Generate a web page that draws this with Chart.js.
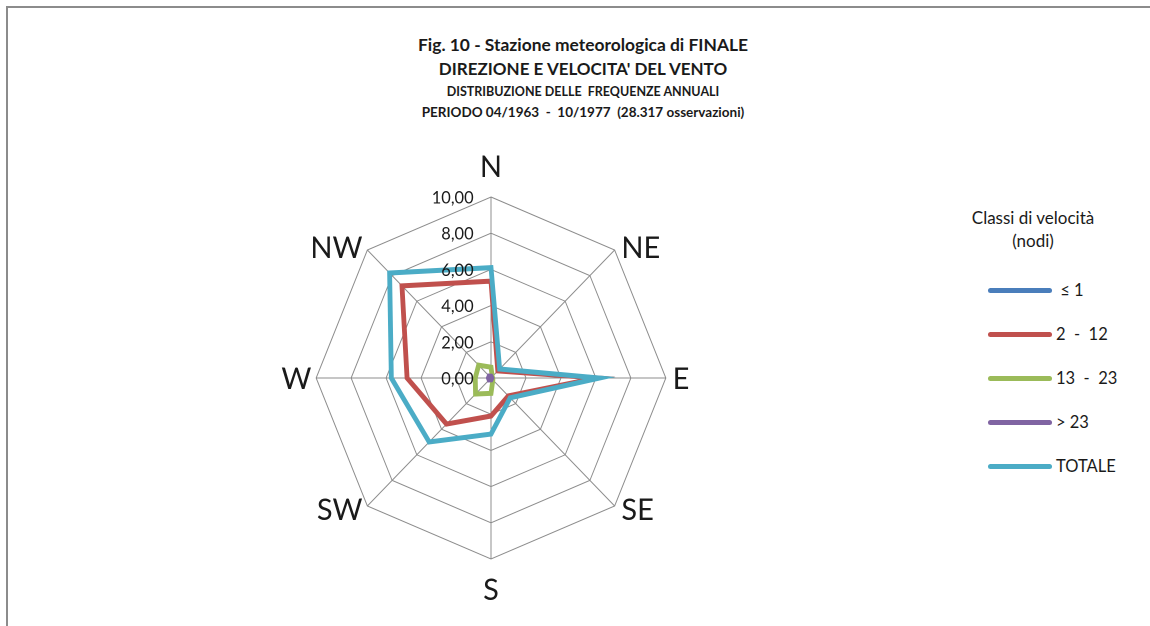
<!DOCTYPE html>
<html lang="it">
<head>
<meta charset="utf-8">
<title>Fig. 10 - Stazione meteorologica di FINALE</title>
<script src="https://cdn.jsdelivr.net/npm/chart.js@4.4.1/dist/chart.umd.min.js"></script>
<style>
  html, body { margin: 0; padding: 0; background: #ffffff; }
  body { width: 1150px; height: 626px; position: relative; overflow: hidden; font-family: Lato, "Open Sans", sans-serif; color: #1a1a1a; }
  .frame { position: absolute; left: 6px; top: 6px; right: -4px; bottom: -4px; border-top: 2px solid #8c8c8c; border-left: 2px solid #8c8c8c; }
  .title { position: absolute; left: 383px; width: 400px; text-align: center; font-weight: bold; white-space: pre; line-height: 1.2; }
  #chartBox { position: absolute; left: 191px; top: 147px; width: 600px; height: 462px; }
  .legend { position: absolute; left: 940px; top: 206px; width: 170px; }
  .legend-title { text-align: center; font-size: 17px; line-height: 23px; margin-left: 16px; }
  .legend-item { position: absolute; left: 48px; height: 20px; display: flex; align-items: center; font-size: 16.5px; white-space: pre; }
  .legend-item .swatch { width: 64px; height: 5px; border-radius: 3px; margin-right: 4px; }
</style>
</head>
<body>
<div class="frame"></div>
<div class="title" style="top:35px;font-size:17.4px;">Fig. 10 - Stazione meteorologica di FINALE</div>
<div class="title" style="top:59px;font-size:17px;">DIREZIONE E VELOCITA' DEL VENTO</div>
<div class="title" style="top:84px;font-size:12.5px;">DISTRIBUZIONE DELLE  FREQUENZE ANNUALI</div>
<div class="title" style="top:104px;font-size:13.5px;">PERIODO 04/1963  -  10/1977  (28.317 osservazioni)</div>

<div id="chartBox"><canvas id="rose"></canvas></div>
<div class="legend" id="legend"></div>

<script>
// Wind directions (compass sectors)
const directions = ['N', 'NE', 'E', 'SE', 'S', 'SW', 'W', 'NW'];

// Annual frequency (%) per speed class, in sector order N..NW
const calm     = [0, 0, 0, 0, 0, 0, 0, 0];                          // ≤ 1 nodi
const light    = [5.35, 0.55, 6.05, 1.4, 2.1, 3.6, 4.8, 7.2];        // 2 - 12 nodi
const moderate = [0.6, 0.1, 0.1, 0.15, 0.85, 1.25, 0.9, 1.0];        // 13 - 23 nodi
const strong   = [0.1, 0.05, 0.05, 0.05, 0.1, 0.15, 0.15, 0.15];     // > 23 nodi
const total    = [6.1, 0.7, 6.2, 1.55, 3.1, 5.0, 5.7, 8.2];          // TOTALE

// Radial axis tick values
const tickValues = [0, 2, 4, 6, 8, 10];

const seriesNames = ['\u2264 1', '2  -  12', '13  -  23', '> 23', 'TOTALE'];
const seriesColors = ['#4a7ebb', '#c0504d', '#9bbb59', '#8064a2', '#4bacc6'];
const seriesData = [calm, light, moderate, strong, total];
// later series are painted on top
const drawOrder = [5, 4, 3, 2, 1];

const FONT = 'Lato, "Open Sans", sans-serif';
const fmt = v => v.toFixed(2).replace('.', ',');

// The rose is drawn slightly narrower than tall (horizontal squash about its centre)
const SQUASH_X = 0.966;
const squash = {
  id: 'squash',
  beforeDraw(chart) {
    const cx = chart.scales.r.xCenter;
    const ctx = chart.ctx;
    ctx.save();
    ctx.translate(cx, 0);
    ctx.scale(SQUASH_X, 1);
    ctx.translate(-cx, 0);
  },
  afterDraw(chart) {
    chart.ctx.restore();
  }
};

// Compass labels just outside the outer ring, and value labels left of the north spoke
const roseLabels = {
  id: 'roseLabels',
  afterDraw(chart) {
    const r = chart.scales.r;
    const ctx = chart.ctx;
    const R = r.drawingArea;
    ctx.save();
    ctx.fillStyle = '#1a1a1a';

    ctx.font = '30px ' + FONT;
    chart.data.labels.forEach((lab, i) => {
      const v = r.getPointPosition(i, R);
      const a = v.angle + Math.PI / 2;          // 0 at north, clockwise
      const sx = Math.sin(a), cy = -Math.cos(a);
      const cap = ctx.measureText(lab).actualBoundingBoxAscent;
      ctx.textBaseline = 'alphabetic';
      if (Math.abs(sx) < 0.01) {
        ctx.textAlign = 'center';
        if (cy < 0) ctx.fillText(lab, v.x, v.y - 20);
        else ctx.fillText(lab, v.x, v.y + 19 + cap);
      } else {
        ctx.textAlign = sx > 0 ? 'left' : 'right';
        const x = v.x + (sx > 0 ? 7 : -5);
        const y = v.y + cy * 4 + cap / 2;
        ctx.fillText(lab, x, y);
      }
    });

    ctx.font = '17px ' + FONT;
    ctx.textAlign = 'right';
    ctx.textBaseline = 'middle';
    tickValues.forEach(val => {
      const d = r.getDistanceFromCenterForValue(val);
      ctx.fillText(fmt(val), r.xCenter - 18, r.yCenter - d + 1);
    });
    ctx.restore();
  }
};

const chart = new Chart(document.getElementById('rose'), {
  type: 'radar',
  data: {
    labels: directions,
    datasets: seriesData.map((d, i) => ({
      label: seriesNames[i],
      data: d,
      borderColor: seriesColors[i],
      backgroundColor: 'rgba(0,0,0,0)',
      borderWidth: 5,
      fill: false,
      pointRadius: 0,
      pointHoverRadius: 0,
      borderJoinStyle: 'miter',
      order: drawOrder[i]
    }))
  },
  options: {
    responsive: true,
    maintainAspectRatio: false,
    animation: false,
    devicePixelRatio: 2,
    layout: { padding: { top: 50, bottom: 50, left: 119, right: 119 } },
    plugins: {
      legend: { display: false },
      title: { display: false },
      tooltip: { enabled: false }
    },
    scales: {
      r: {
        min: 0,
        max: 10,
        beginAtZero: true,
        ticks: { stepSize: 2, display: false },
        grid: { color: '#8c8c8c', lineWidth: 1 },
        angleLines: { color: '#8c8c8c', lineWidth: 1 },
        pointLabels: { display: false }
      }
    }
  },
  plugins: [roseLabels, squash]
});

// Legend built from the chart's own datasets
const legend = document.getElementById('legend');
legend.innerHTML = '<div class="legend-title">Classi di velocità<br>(nodi)</div>';
chart.data.datasets.forEach((ds, i) => {
  const item = document.createElement('div');
  item.className = 'legend-item';
  item.style.top = (74 + i * 44) + 'px';
  const sw = document.createElement('span');
  sw.className = 'swatch';
  sw.style.background = ds.borderColor;
  const tx = document.createElement('span');
  tx.textContent = (i === 0 ? ' ' : '') + ds.label;
  item.appendChild(sw);
  item.appendChild(tx);
  legend.appendChild(item);
});
</script>
</body>
</html>
